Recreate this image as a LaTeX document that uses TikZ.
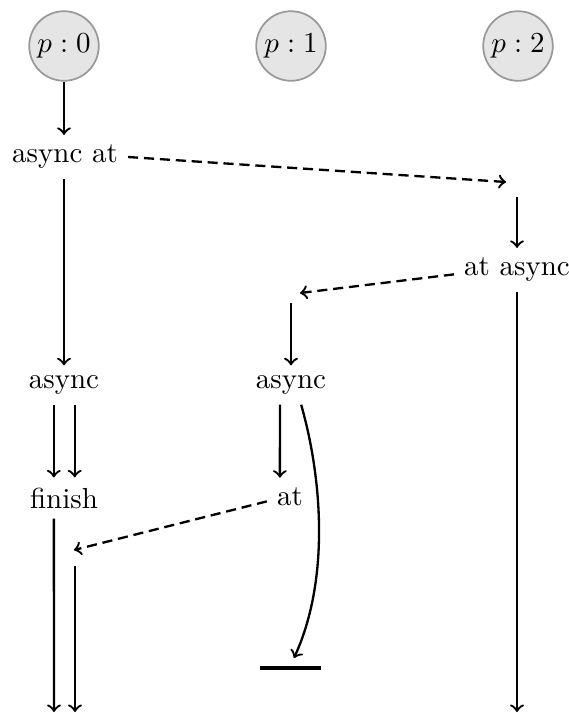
\documentclass[tikz,border=0pt]{standalone}
\usetikzlibrary{calc}
\begin{document}
\begin{tikzpicture}[x=0.345pt,y=-0.345pt,
  proc/.style={circle,draw=gray!80,fill=gray!20,semithick,minimum size=24pt,inner sep=0pt},
  lab/.style={inner sep=3.33pt},
  flow/.style={->,thick},
  msg/.style={->,thick,dash pattern=on 3.5pt off 2pt}]
\useasboundingbox (0,0) rectangle (569,713);
% processes
\node[proc] (p0) at (64,46) {$p:0$};
\node[proc] (p1) at (291,46) {$p:1$};
\node[proc] (p2) at (518,46) {$p:2$};
% labels
\node[lab] (aa) at (65,157) {async at};
\node[lab] (ar) at (517,270) {at async};
\node[lab] (as0) at (64,385) {async};
\node[lab] (as1) at (291,385) {async};
\node[lab] (fin) at (64,498) {finish};
\node[lab] (at1) at (290,497) {at};
% free ends
\coordinate (d1) at (506,182);
\coordinate (t1) at (517,197);
\coordinate (d2) at (300,293);
\coordinate (t2) at (291,303);
\coordinate (d3) at (74,550);
\coordinate (s1) at (75,566);
\coordinate (e0) at (54,712);
\coordinate (e1) at (75,712);
\coordinate (e2) at (517,712);
\coordinate (ct) at (294,658);
\coordinate (barL) at (260,668);
\coordinate (barR) at (321,668);
% p:0
\draw[flow] (p0) -- (p0 |- aa.north);
\draw[msg] (aa.east) -- (d1);
\draw[flow] (aa.south -| p0) -- (as0);
\draw[flow] ([xshift=-3.5pt]as0.south) -- ([xshift=-3.5pt]fin.north);
\draw[flow] ([xshift=3.7pt]as0.south) -- ([xshift=3.7pt]fin.north);
\draw[flow] ([xshift=-3.5pt]fin.south) -- (e0);
\draw[flow] (s1) -- (e1);
% p:2
\draw[flow] (t1) -- (ar);
\draw[msg] ([yshift=-1.5pt]ar.west) -- (d2);
\draw[flow] (ar) -- (e2);
% p:1
\draw[flow] (t2) -- (as1);
\draw[flow] ([xshift=-3.8pt]as1.south) -- ([xshift=-3.5pt]at1.north);
\draw[flow] ([xshift=3.5pt]as1.south) .. controls (320,470) and (332,575) .. (ct);
\draw[msg] ([yshift=-1.5pt]at1.west) -- (d3);
\draw[line width=1.5pt] (barL) -- (barR);
\end{tikzpicture}
\end{document}
